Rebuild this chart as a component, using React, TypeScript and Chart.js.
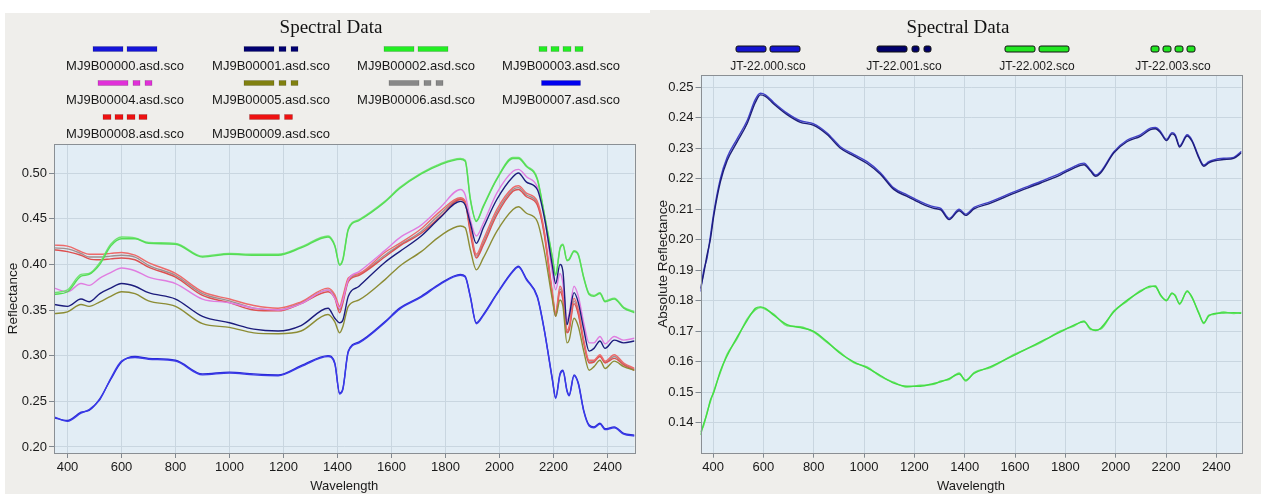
import React, { useEffect, useRef } from "react";
import { Chart, registerables } from "chart.js";
Chart.register(...registerables);

const SANS = '"Liberation Sans", Arial, sans-serif';
const SERIF = '"Liberation Serif", "Times New Roman", serif';

// ---------- LEFT PANEL DATA ----------
const WL_LEFT = [350, 400, 450, 480, 520, 560, 600, 650, 700, 800, 900, 1000, 1090, 1180, 1265, 1365, 1390, 1408, 1420, 1440, 1480, 1575, 1630, 1710, 1780, 1855, 1873, 1892, 1914, 1940, 1990, 2050, 2070, 2100, 2140, 2165, 2196, 2208, 2224, 2235, 2250, 2258, 2276, 2292, 2312, 2332, 2350, 2372, 2391, 2425, 2460, 2500];

const MJ00 = [0.232, 0.229, 0.238, 0.240, 0.253, 0.274, 0.293, 0.299, 0.297, 0.295, 0.280, 0.282, 0.280, 0.279, 0.289, 0.300, 0.292, 0.259, 0.264, 0.305, 0.315, 0.337, 0.352, 0.365, 0.379, 0.389, 0.387, 0.365, 0.336, 0.345, 0.368, 0.393, 0.398, 0.384, 0.365, 0.330, 0.274, 0.254, 0.280, 0.284, 0.262, 0.257, 0.279, 0.270, 0.240, 0.224, 0.222, 0.226, 0.220, 0.222, 0.215, 0.213];
const MJ01 = [0.356, 0.354, 0.362, 0.359, 0.368, 0.374, 0.379, 0.376, 0.369, 0.362, 0.343, 0.336, 0.329, 0.327, 0.333, 0.352, 0.341, 0.336, 0.339, 0.365, 0.376, 0.402, 0.414, 0.431, 0.451, 0.469, 0.465, 0.445, 0.423, 0.440, 0.471, 0.496, 0.500, 0.490, 0.482, 0.453, 0.398, 0.379, 0.400, 0.392, 0.334, 0.343, 0.369, 0.358, 0.329, 0.305, 0.308, 0.316, 0.308, 0.317, 0.314, 0.316];
const MJ02 = [0.367, 0.370, 0.387, 0.389, 0.400, 0.420, 0.428, 0.428, 0.423, 0.422, 0.408, 0.411, 0.410, 0.410, 0.418, 0.430, 0.420, 0.399, 0.405, 0.438, 0.448, 0.468, 0.483, 0.499, 0.509, 0.515, 0.513, 0.471, 0.447, 0.463, 0.493, 0.516, 0.516, 0.507, 0.493, 0.456, 0.407, 0.388, 0.417, 0.421, 0.404, 0.405, 0.414, 0.410, 0.385, 0.367, 0.365, 0.368, 0.359, 0.362, 0.352, 0.347];
const MJ03 = [0.369, 0.372, 0.389, 0.390, 0.402, 0.422, 0.430, 0.429, 0.424, 0.423, 0.409, 0.412, 0.411, 0.411, 0.419, 0.431, 0.421, 0.400, 0.406, 0.439, 0.449, 0.469, 0.484, 0.500, 0.510, 0.516, 0.514, 0.472, 0.448, 0.464, 0.494, 0.517, 0.517, 0.508, 0.494, 0.457, 0.408, 0.389, 0.418, 0.422, 0.405, 0.406, 0.415, 0.411, 0.386, 0.368, 0.366, 0.369, 0.360, 0.363, 0.353, 0.348];
const MJ04 = [0.374, 0.370, 0.379, 0.377, 0.385, 0.391, 0.396, 0.393, 0.386, 0.379, 0.362, 0.358, 0.352, 0.350, 0.357, 0.372, 0.363, 0.352, 0.361, 0.383, 0.392, 0.415, 0.429, 0.443, 0.462, 0.482, 0.476, 0.449, 0.431, 0.445, 0.478, 0.502, 0.504, 0.496, 0.485, 0.456, 0.390, 0.372, 0.390, 0.379, 0.339, 0.346, 0.376, 0.365, 0.336, 0.314, 0.314, 0.321, 0.313, 0.321, 0.317, 0.319];
const MJ05 = [0.346, 0.348, 0.356, 0.354, 0.359, 0.365, 0.370, 0.368, 0.360, 0.354, 0.335, 0.331, 0.325, 0.324, 0.327, 0.345, 0.337, 0.325, 0.332, 0.354, 0.361, 0.383, 0.398, 0.414, 0.431, 0.442, 0.440, 0.416, 0.394, 0.407, 0.436, 0.460, 0.463, 0.456, 0.447, 0.416, 0.361, 0.343, 0.361, 0.354, 0.314, 0.317, 0.341, 0.332, 0.305, 0.284, 0.288, 0.295, 0.286, 0.294, 0.288, 0.284];
const MJ06 = [0.418, 0.417, 0.412, 0.408, 0.408, 0.409, 0.410, 0.408, 0.399, 0.388, 0.368, 0.360, 0.352, 0.350, 0.358, 0.372, 0.365, 0.350, 0.361, 0.383, 0.389, 0.410, 0.421, 0.436, 0.455, 0.472, 0.468, 0.437, 0.409, 0.424, 0.457, 0.482, 0.484, 0.476, 0.467, 0.436, 0.367, 0.345, 0.373, 0.364, 0.326, 0.330, 0.360, 0.347, 0.315, 0.293, 0.294, 0.300, 0.293, 0.299, 0.291, 0.285];
const MJ07 = [0.233, 0.228, 0.237, 0.241, 0.252, 0.275, 0.294, 0.298, 0.296, 0.294, 0.279, 0.281, 0.279, 0.278, 0.288, 0.299, 0.291, 0.258, 0.263, 0.304, 0.314, 0.336, 0.351, 0.364, 0.378, 0.388, 0.386, 0.364, 0.335, 0.344, 0.367, 0.392, 0.397, 0.383, 0.364, 0.329, 0.273, 0.253, 0.279, 0.283, 0.261, 0.256, 0.278, 0.269, 0.239, 0.223, 0.221, 0.225, 0.219, 0.221, 0.214, 0.212];
const MJ08 = [0.421, 0.420, 0.414, 0.411, 0.411, 0.412, 0.413, 0.410, 0.402, 0.390, 0.370, 0.362, 0.355, 0.352, 0.359, 0.374, 0.367, 0.354, 0.365, 0.385, 0.390, 0.413, 0.423, 0.439, 0.458, 0.473, 0.469, 0.440, 0.411, 0.427, 0.460, 0.484, 0.486, 0.478, 0.469, 0.438, 0.369, 0.347, 0.376, 0.367, 0.328, 0.332, 0.363, 0.350, 0.317, 0.295, 0.295, 0.301, 0.294, 0.301, 0.292, 0.286];
const MJ09 = [0.416, 0.414, 0.410, 0.406, 0.405, 0.406, 0.407, 0.405, 0.397, 0.386, 0.366, 0.358, 0.350, 0.349, 0.357, 0.370, 0.363, 0.347, 0.358, 0.381, 0.388, 0.408, 0.420, 0.434, 0.452, 0.471, 0.467, 0.434, 0.407, 0.421, 0.454, 0.480, 0.482, 0.474, 0.465, 0.434, 0.365, 0.343, 0.370, 0.361, 0.325, 0.328, 0.357, 0.345, 0.314, 0.292, 0.293, 0.299, 0.292, 0.297, 0.290, 0.284];

const LEFT_NAMES = ["MJ9B00000.asd.sco", "MJ9B00001.asd.sco", "MJ9B00002.asd.sco", "MJ9B00003.asd.sco", "MJ9B00004.asd.sco", "MJ9B00005.asd.sco", "MJ9B00006.asd.sco", "MJ9B00007.asd.sco", "MJ9B00008.asd.sco", "MJ9B00009.asd.sco"];
const LEFT_X_TICKS = [400, 600, 800, 1000, 1200, 1400, 1600, 1800, 2000, 2200, 2400];
const LEFT_Y_TICKS = [0.2, 0.25, 0.3, 0.35, 0.4, 0.45, 0.5];

// ---------- RIGHT PANEL DATA ----------
const WL_RIGHT = [350, 363, 376, 389, 403, 429, 456, 495, 535, 568, 588, 608, 641, 694, 747, 800, 853, 906, 959, 1012, 1065, 1118, 1171, 1224, 1277, 1305, 1338, 1378, 1404, 1437, 1503, 1598, 1702, 1781, 1834, 1874, 1900, 1920, 1940, 1993, 2046, 2098, 2138, 2158, 2178, 2202, 2224, 2237, 2254, 2284, 2303, 2330, 2350, 2370, 2389, 2429, 2469, 2500];

const JT0 = [0.183, 0.190, 0.194, 0.201, 0.209, 0.220, 0.227, 0.233, 0.239, 0.246, 0.248, 0.2475, 0.245, 0.2415, 0.239, 0.238, 0.235, 0.2305, 0.228, 0.2256, 0.222, 0.217, 0.2147, 0.2125, 0.2108, 0.2103, 0.207, 0.210, 0.2084, 0.2106, 0.2125, 0.2158, 0.2191, 0.2218, 0.224, 0.2251, 0.2229, 0.2212, 0.2223, 0.2289, 0.2327, 0.2344, 0.2366, 0.2368, 0.2355, 0.2329, 0.2351, 0.2344, 0.2308, 0.2344, 0.2327, 0.2273, 0.2245, 0.2256, 0.2262, 0.2267, 0.227, 0.229];
const JT1 = [0.184, 0.189, 0.195, 0.200, 0.208, 0.219, 0.226, 0.232, 0.238, 0.245, 0.2475, 0.247, 0.2445, 0.241, 0.2385, 0.2375, 0.2345, 0.230, 0.2275, 0.225, 0.2215, 0.2165, 0.2142, 0.212, 0.2103, 0.2098, 0.2066, 0.2095, 0.208, 0.2101, 0.212, 0.2153, 0.2186, 0.2213, 0.2235, 0.2246, 0.2225, 0.2208, 0.2219, 0.2285, 0.2322, 0.2339, 0.2361, 0.2364, 0.2351, 0.2325, 0.2347, 0.234, 0.2304, 0.234, 0.2323, 0.2269, 0.2241, 0.2252, 0.2258, 0.2263, 0.2267, 0.2285];
const JT2 = [0.136, 0.1398, 0.143, 0.1474, 0.150, 0.157, 0.162, 0.168, 0.1735, 0.1775, 0.178, 0.1775, 0.1753, 0.1722, 0.1712, 0.170, 0.1666, 0.1627, 0.160, 0.158, 0.1555, 0.153, 0.152, 0.152, 0.1529, 0.1534, 0.1545, 0.156, 0.154, 0.1562, 0.1584, 0.1622, 0.1666, 0.1698, 0.172, 0.1731, 0.1709, 0.1702, 0.171, 0.1764, 0.1802, 0.183, 0.1848, 0.1846, 0.182, 0.180, 0.1826, 0.1815, 0.1791, 0.183, 0.1813, 0.1759, 0.1728, 0.175, 0.1758, 0.176, 0.1761, 0.1759];
const JT3 = [0.137, 0.1392, 0.1435, 0.1468, 0.1505, 0.1565, 0.1625, 0.1675, 0.174, 0.177, 0.1778, 0.1772, 0.1756, 0.1718, 0.1715, 0.1697, 0.1663, 0.163, 0.1597, 0.1583, 0.1552, 0.1533, 0.1517, 0.1523, 0.1526, 0.1537, 0.1542, 0.1563, 0.1537, 0.1565, 0.1581, 0.1625, 0.1663, 0.1701, 0.1717, 0.1734, 0.1706, 0.1705, 0.1707, 0.1767, 0.1799, 0.1833, 0.1845, 0.1849, 0.1817, 0.1803, 0.1823, 0.1818, 0.1788, 0.1833, 0.181, 0.1762, 0.1725, 0.1753, 0.1755, 0.1763, 0.1758, 0.1762];

const RIGHT_NAMES = ["JT-22.000.sco", "JT-22.001.sco", "JT-22.002.sco", "JT-22.003.sco"];
const RIGHT_X_TICKS = [400, 600, 800, 1000, 1200, 1400, 1600, 1800, 2000, 2200, 2400];
const RIGHT_Y_TICKS = [0.14, 0.15, 0.16, 0.17, 0.18, 0.19, 0.2, 0.21, 0.22, 0.23, 0.24, 0.25];

// legend swatch patterns (segment, gap, segment ...)
const DASH = [30, 4, 30];
const DASH_DOT_DOT = [30, 5, 7, 5, 7];
const DOTS = [8, 4, 8, 4, 8, 4, 8];
const SOLID = [39];
const DASH_DOT = [30, 5, 8];

type Series = { name: string; wl: number[]; vals: number[]; line: string; swatch: string; pattern: number[]; order: number };

const LEFT_SERIES: Series[] = [
  { name: LEFT_NAMES[0], wl: WL_LEFT, vals: MJ00, line: "#2a2ad6", swatch: "#1414d8", pattern: DASH, order: 1 },
  { name: LEFT_NAMES[1], wl: WL_LEFT, vals: MJ01, line: "#1c1c7c", swatch: "#000070", pattern: DASH_DOT_DOT, order: 2 },
  { name: LEFT_NAMES[2], wl: WL_LEFT, vals: MJ02, line: "#55dd55", swatch: "#22ee22", pattern: DASH, order: 3 },
  { name: LEFT_NAMES[3], wl: WL_LEFT, vals: MJ03, line: "#70e470", swatch: "#22ee22", pattern: DOTS, order: 4 },
  { name: LEFT_NAMES[4], wl: WL_LEFT, vals: MJ04, line: "#e07de0", swatch: "#e030d8", pattern: DASH_DOT_DOT, order: 5 },
  { name: LEFT_NAMES[5], wl: WL_LEFT, vals: MJ05, line: "#8c8c34", swatch: "#808010", pattern: DASH_DOT_DOT, order: 6 },
  { name: LEFT_NAMES[6], wl: WL_LEFT, vals: MJ06, line: "#a08f8f", swatch: "#888888", pattern: DASH_DOT_DOT, order: 9 },
  { name: LEFT_NAMES[7], wl: WL_LEFT, vals: MJ07, line: "#3a3ae8", swatch: "#0000ee", pattern: SOLID, order: 0 },
  { name: LEFT_NAMES[8], wl: WL_LEFT, vals: MJ08, line: "#ee6a6a", swatch: "#ee1111", pattern: DOTS, order: 7 },
  { name: LEFT_NAMES[9], wl: WL_LEFT, vals: MJ09, line: "#dd5050", swatch: "#ee1111", pattern: DASH_DOT, order: 8 },
];

const RIGHT_SERIES: Series[] = [
  { name: RIGHT_NAMES[0], wl: WL_RIGHT, vals: JT0, line: "#4040c8", swatch: "#1414d0", pattern: DASH, order: 1 },
  { name: RIGHT_NAMES[1], wl: WL_RIGHT, vals: JT1, line: "#1e1e7a", swatch: "#00006a", pattern: DASH_DOT_DOT, order: 0 },
  { name: RIGHT_NAMES[2], wl: WL_RIGHT, vals: JT2, line: "#44dc44", swatch: "#22e622", pattern: DASH, order: 2 },
  { name: RIGHT_NAMES[3], wl: WL_RIGHT, vals: JT3, line: "#6ae46a", swatch: "#22e622", pattern: DOTS, order: 3 },
];

type PanelCfg = {
  width: number;
  offsetX: number;
  series: Series[];
  xTicks: number[];
  yTicks: number[];
  yMin: number;
  yMax: number;
  yTitle: string;
  yTitleX: number;
  yAxisWidth: number;
  padding: { left: number; right: number; top: number; bottom: number };
  titleX: number;
  colCenters: number[];
  swatchY: number[];
  textY: number[];
  legendFont: number;
  outline: boolean;
};

function makePlugin(cfg: PanelCfg) {
  return {
    id: "panelDecor",
    beforeDraw(chart: any) {
      const { ctx, chartArea: a } = chart;
      ctx.save();
      ctx.fillStyle = "#e2edf5";
      ctx.fillRect(a.left, a.top, a.right - a.left, a.bottom - a.top);
      ctx.restore();
    },
    afterDraw(chart: any) {
      const { ctx, chartArea: a } = chart;
      const ox = cfg.offsetX;
      ctx.save();
      // plot border
      ctx.strokeStyle = "#8a8f94";
      ctx.lineWidth = 1;
      ctx.strokeRect(Math.round(a.left) + 0.5, Math.round(a.top) + 0.5, Math.round(a.right - a.left), Math.round(a.bottom - a.top));
      // title
      ctx.fillStyle = "#111";
      ctx.font = `19px ${SERIF}`;
      ctx.textAlign = "center";
      ctx.textBaseline = "alphabetic";
      ctx.fillText("Spectral Data", cfg.titleX - ox, 33);
      // legend
      cfg.series.forEach((s, i) => {
        const row = Math.floor(i / 4);
        const col = i % 4;
        const cx = cfg.colCenters[col] - ox;
        const total = s.pattern.reduce((p, v) => p + v, 0);
        let x = cx - total / 2;
        const y = cfg.swatchY[row];
        s.pattern.forEach((w, k) => {
          if (k % 2 === 0) {
            ctx.fillStyle = s.swatch;
            if (cfg.outline) {
              ctx.beginPath();
              const r = 2;
              const h = 6;
              const top = y - h / 2;
              ctx.moveTo(x + r, top);
              ctx.lineTo(x + w - r, top);
              ctx.quadraticCurveTo(x + w, top, x + w, top + r);
              ctx.lineTo(x + w, top + h - r);
              ctx.quadraticCurveTo(x + w, top + h, x + w - r, top + h);
              ctx.lineTo(x + r, top + h);
              ctx.quadraticCurveTo(x, top + h, x, top + h - r);
              ctx.lineTo(x, top + r);
              ctx.quadraticCurveTo(x, top, x + r, top);
              ctx.closePath();
              ctx.fill();
              ctx.strokeStyle = "#111";
              ctx.lineWidth = 1;
              ctx.stroke();
            } else {
              ctx.fillRect(x, y - 2.5, w, 5);
              ctx.strokeStyle = "rgba(0,0,0,0.25)";
              ctx.lineWidth = 0.6;
              ctx.strokeRect(x, y - 2.5, w, 5);
            }
          }
          x += w;
        });
        ctx.fillStyle = "#1a1a1a";
        ctx.font = `${cfg.legendFont}px ${SANS}`;
        ctx.textAlign = "center";
        ctx.textBaseline = "alphabetic";
        ctx.fillText(s.name, cx, cfg.textY[row]);
      });
      // axis titles
      ctx.fillStyle = "#1a1a1a";
      ctx.font = `13px ${SANS}`;
      ctx.textAlign = "center";
      ctx.textBaseline = "alphabetic";
      ctx.fillText("Wavelength", (a.left + a.right) / 2, 490);
      ctx.save();
      ctx.translate(cfg.yTitleX - ox, (a.top + a.bottom) / 2);
      ctx.rotate(-Math.PI / 2);
      ctx.textBaseline = "middle";
      ctx.font = `13.5px ${SANS}`;
      ctx.fillText(cfg.yTitle, 0, 0);
      ctx.restore();
      ctx.restore();
    },
  };
}

function Panel({ cfg }: { cfg: PanelCfg }) {
  const ref = useRef<HTMLCanvasElement | null>(null);
  useEffect(() => {
    if (!ref.current) return;
    const datasets = cfg.series.map((s) => ({
      label: s.name,
      data: s.wl.map((x, i) => ({ x, y: s.vals[i] })),
      borderColor: s.line,
      backgroundColor: s.line,
      borderWidth: 1.4,
      pointRadius: 0,
      fill: false,
      cubicInterpolationMode: "monotone" as const,
      order: s.order,
    }));
    const chart = new Chart(ref.current, {
      type: "line",
      data: { datasets },
      plugins: [makePlugin(cfg)],
      options: {
        animation: false,
        responsive: false,
        devicePixelRatio: 1,
        layout: { padding: cfg.padding },
        plugins: { legend: { display: false }, title: { display: false }, tooltip: { enabled: false } },
        scales: {
          x: {
            type: "linear",
            min: 350,
            max: 2500,
            afterBuildTicks: (scale: any) => {
              scale.ticks = cfg.xTicks.map((v) => ({ value: v }));
            },
            afterFit: (scale: any) => {
              scale.height = 30;
            },
            ticks: {
              color: "#1a1a1a",
              font: { family: SANS, size: 13 },
              padding: 2,
              maxRotation: 0,
              autoSkip: false,
              callback: (v: any) => String(v),
            },
            grid: { color: "#c9d6e0", lineWidth: 1, tickLength: 5, tickColor: "#808890" },
            border: { display: false },
          },
          y: {
            type: "linear",
            min: cfg.yMin,
            max: cfg.yMax,
            afterBuildTicks: (scale: any) => {
              scale.ticks = cfg.yTicks.map((v) => ({ value: v }));
            },
            afterFit: (scale: any) => {
              scale.width = cfg.yAxisWidth;
            },
            ticks: {
              color: "#1a1a1a",
              font: { family: SANS, size: 13 },
              padding: 2,
              autoSkip: false,
              callback: (v: any) => Number(v).toFixed(2),
            },
            grid: { color: "#c9d6e0", lineWidth: 1, tickLength: 5, tickColor: "#808890" },
            border: { display: false },
          },
        },
      },
    });
    return () => chart.destroy();
  }, [cfg]);
  return <canvas ref={ref} width={cfg.width} height={494} style={{ display: "block", position: "absolute", left: cfg.offsetX, top: 0 }} />;
}

const LEFT_CFG: PanelCfg = {
  width: 650,
  offsetX: 0,
  series: LEFT_SERIES,
  xTicks: LEFT_X_TICKS,
  yTicks: LEFT_Y_TICKS,
  yMin: 0.1934,
  yMax: 0.5318,
  yTitle: "Reflectance",
  yTitleX: 13,
  yAxisWidth: 40,
  padding: { left: 14, right: 15.5, top: 144, bottom: 11 },
  titleX: 331,
  colCenters: [125, 271, 416, 561],
  swatchY: [49, 83, 117],
  textY: [70, 104, 138],
  legendFont: 13,
  outline: false,
};

const RIGHT_CFG: PanelCfg = {
  width: 611,
  offsetX: 650,
  series: RIGHT_SERIES,
  xTicks: RIGHT_X_TICKS,
  yTicks: RIGHT_Y_TICKS,
  yMin: 0.1302,
  yMax: 0.254,
  yTitle: "Absolute Reflectance",
  yTitleX: 663,
  yAxisWidth: 44,
  padding: { left: 6.5, right: 19.5, top: 75, bottom: 11.3 },
  titleX: 958,
  colCenters: [768, 904, 1037, 1173],
  swatchY: [49],
  textY: [70],
  legendFont: 12,
  outline: true,
};

export default function App() {
  return (
    <div style={{ position: "fixed", left: 0, top: 0, width: 1261, height: 494, background: "#ffffff", overflow: "hidden" }}>
      <div style={{ position: "absolute", left: 5, top: 13, width: 645, height: 481, background: "#efeeeb" }} />
      <div style={{ position: "absolute", left: 650, top: 10, width: 611, height: 484, background: "#efeeeb" }} />
      <Panel cfg={LEFT_CFG} />
      <Panel cfg={RIGHT_CFG} />
    </div>
  );
}
